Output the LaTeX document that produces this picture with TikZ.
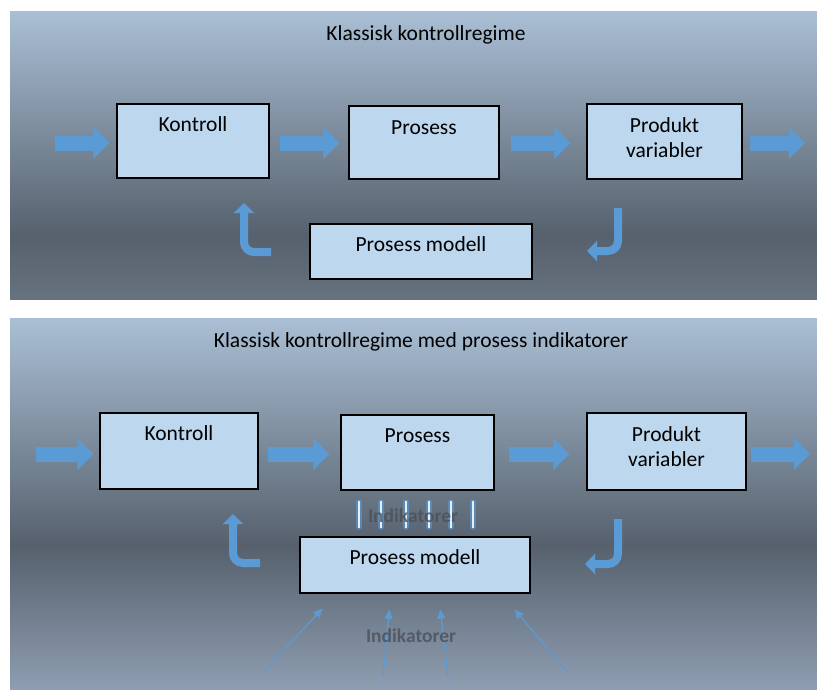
\documentclass[tikz,border=0pt]{standalone}
\usepackage{fontspec}
\setmainfont{Carlito}
\usepackage{tikz}
\usetikzlibrary{arrows.meta,positioning}

\definecolor{boxblue}{HTML}{BDD7EE}
\definecolor{arrowblue}{HTML}{5B9BD5}
\definecolor{bglight}{HTML}{AABFD5}
\definecolor{bgdark}{HTML}{56616D}
\definecolor{bgmid}{HTML}{67727F}
\definecolor{bgbottom}{HTML}{8E9DB1}
\definecolor{indgray}{HTML}{4A5059}

\begin{document}
\begin{tikzpicture} [
  x=1pt, y=-1pt,
  box/.style={rectangle,draw=black,line width=1.3pt,fill=boxblue,inner sep=0pt},
  boxtext/.style={anchor=base,inner sep=0pt,font=\fontsize{21.5}{26}\selectfont},
  titletext/.style={anchor=base,inner sep=0pt,font=\fontsize{21.5}{26}\selectfont},
  indtext/.style={anchor=base,inner sep=0pt,text=indgray,opacity=0.8,
    font=\bfseries\fontsize{19.5}{22}\selectfont},
  blockarrow/.style={arrowblue,line width=15pt,-{Triangle[width=31pt,length=16pt]}},
  bendarrow/.style={arrowblue,line width=8pt,rounded corners=10pt,
    -{Triangle[width=20pt,length=10pt]}},
  thinarrow/.style={arrowblue,line width=1.2pt,-{Triangle[width=8pt,length=9pt]}}]

\useasboundingbox (0,0) rectangle (817,689);

% background of the two panels
\shade[top color=bglight,bottom color=bgdark] (10,11) rectangle (817,235);
\shade[top color=bgdark,bottom color=bgmid] (10,235) rectangle (817,299);
\shade[top color=bglight,bottom color=bgdark] (10,318) rectangle (817,545);
\shade[top color=bgdark,bottom color=bgbottom] (10,545) rectangle (817,689);

% upper panel
\node[titletext] (title1) at (426,40) {Klassisk kontrollregime};

\node[box,minimum width=152pt,minimum height=74pt] (kon1) at (193,141) {};
\node[box,minimum width=150pt,minimum height=73pt] (pro1) at (424,142.5) {};
\node[box,minimum width=155pt,minimum height=75pt] (prd1) at (664.5,141.5) {};
\node[box,minimum width=222pt,minimum height=55pt] (mod1) at (421,251.5) {};

\node[boxtext] (kon1t) at ([yshift=-28pt]kon1.north) {Kontroll};
\node[boxtext] (pro1t) at ([yshift=-29pt]pro1.north) {Prosess};
\node[boxtext] (prd1t) at ([yshift=-29pt]prd1.north) {Produkt};
\node[boxtext] (prd1v) at ([yshift=-54pt]prd1.north) {variabler};
\node[boxtext] (mod1t) at ([yshift=-28pt]mod1.north) {Prosess modell};

\coordinate (in1) at (55,143);
\coordinate (out1) at (805,143);
\draw[blockarrow] (in1) -- ([xshift=-7pt,yshift=-2pt]kon1.west);
\draw[blockarrow] ([xshift=10pt,yshift=-2pt]kon1.east) -- ([xshift=-9pt,yshift=-0.5pt]pro1.west);
\draw[blockarrow] ([xshift=11pt,yshift=-0.5pt]pro1.east) -- ([xshift=-16pt,yshift=-1.5pt]prd1.west);
\draw[blockarrow] ([xshift=7pt,yshift=-1.5pt]prd1.east) -- (out1);

\coordinate (fb1s) at (271,252);
\coordinate (fb1e) at (244,203);
\coordinate (fb2s) at (618,208);
\coordinate (fb2e) at (587,251);
\draw[bendarrow] (fb1s) -| (fb1e);
\draw[bendarrow] (fb2s) |- (fb2e);

% lower panel
\node[titletext] (title2) at (421,347) {Klassisk kontrollregime med prosess indikatorer};

\node[box,minimum width=158pt,minimum height=76pt] (kon2) at (179,451) {};
\node[box,minimum width=153pt,minimum height=75pt] (pro2) at (417.5,452.5) {};
\node[box,minimum width=159pt,minimum height=77pt] (prd2) at (666.5,451.5) {};
\node[box,minimum width=230pt,minimum height=56pt] (mod2) at (415,565) {};

\node[boxtext] (kon2t) at ([yshift=-28pt]kon2.north) {Kontroll};
\node[boxtext] (pro2t) at ([yshift=-28pt]pro2.north) {Prosess};
\node[boxtext] (prd2t) at ([yshift=-29pt]prd2.north) {Produkt};
\node[boxtext] (prd2v) at ([yshift=-54pt]prd2.north) {variabler};
\node[boxtext] (mod2t) at ([yshift=-28pt]mod2.north) {Prosess modell};

\coordinate (in2) at (36,454);
\coordinate (out2) at (810,454);
\draw[blockarrow] (in2) -- ([xshift=-6pt,yshift=-3pt]kon2.west);
\draw[blockarrow] ([xshift=9pt,yshift=-3pt]kon2.east) -- ([xshift=-11pt,yshift=-1.5pt]pro2.west);
\draw[blockarrow] ([xshift=14pt,yshift=-1.5pt]pro2.east) -- ([xshift=-17pt,yshift=-2.5pt]prd2.west);
\draw[blockarrow] ([xshift=4pt,yshift=-2.5pt]prd2.east) -- (out2);

\coordinate (fb3s) at (260,563);
\coordinate (fb3e) at (233,514);
\coordinate (fb4s) at (618,519);
\coordinate (fb4e) at (585,564);
\draw[bendarrow] (fb3s) -| (fb3e);
\draw[bendarrow] (fb4s) |- (fb4e);

% indicator bars
\foreach \x in {359,381,406,429,451,473} {
  \draw[arrowblue,opacity=0.6,line width=5.5pt,line cap=round] (\x,502) -- (\x,527);
  \draw[white!60!boxblue,line width=2.4pt] (\x,501) -- (\x,528);
}
\node[indtext] (ind1t) at (413,522) {Indikatorer};

\coordinate (src1) at (265,670);
\coordinate (src2) at (383,677);
\coordinate (src3) at (448,677);
\coordinate (src4) at (568,673);
\draw[thinarrow] (src1) -- ([xshift=23pt,yshift=-15pt]mod2.south west);
\draw[thinarrow] (src2) -- ([xshift=90pt,yshift=-16pt]mod2.south west);
\draw[thinarrow] (src3) -- ([xshift=141pt,yshift=-16pt]mod2.south west);
\draw[thinarrow] (src4) -- ([xshift=-16pt,yshift=-16pt]mod2.south east);
\node[indtext] (ind2t) at (411,642) {Indikatorer};
\end{tikzpicture}
\end{document}
